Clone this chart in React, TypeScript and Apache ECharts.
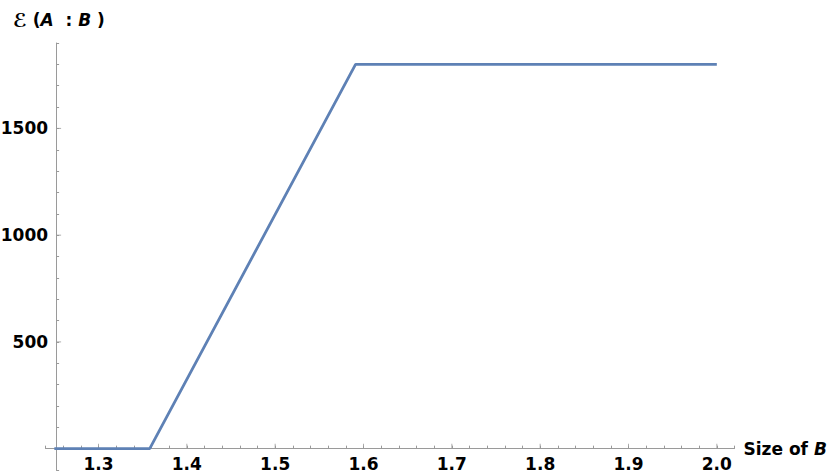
import React, { useEffect, useRef } from "react";
import * as echarts from "echarts";

const xValues = [1.25, 1.358, 1.591, 2.0];
const yValues = [0, 0, 1800, 1800];
const xMajorTicks = [1.3, 1.4, 1.5, 1.6, 1.7, 1.8, 1.9, 2.0];
const yMajorTicks = [500, 1000, 1500];

const X_MIN = 1.24;
const X_MAX = 2.02;
const Y_MIN = -100;
const Y_MAX = 1900;
const Y_AXIS_AT = 1.252;

const GRID_LEFT = 45.5;
const GRID_RIGHT = 95.5;
const W = 830;
const FONT = "DejaVu Sans";
const AXIS_COLOR = "#9a9a9a";
const FS = 17;

export default function App() {
  const ref = useRef<HTMLDivElement>(null);
  useEffect(() => {
    if (!ref.current) return;
    const chart = echarts.init(ref.current, undefined, { renderer: "svg" });
    const gridW = W - GRID_LEFT - GRID_RIGHT;
    const yOffset = -((Y_AXIS_AT - X_MIN) / (X_MAX - X_MIN)) * gridW;
    chart.setOption({
      animation: false,
      backgroundColor: "#fff",
      grid: {
        left: GRID_LEFT,
        right: GRID_RIGHT,
        top: 43,
        bottom: 5,
        containLabel: false,
        outerBoundsMode: "none",
      },
      graphic: [
        {
          type: "text",
          left: 13,
          top: 10,
          style: {
            text: "{s|ℰ}{b| (}{i|A}{b|  : }{i|B}{b| )}",
            rich: {
              s: { fontFamily: FONT, fontSize: 19, fontWeight: "bold", fill: "#000" },
              b: { fontFamily: FONT, fontSize: 17, fontWeight: "bold", fill: "#000" },
              i: { fontFamily: FONT, fontSize: 17, fontWeight: "bold", fontStyle: "italic", fill: "#000" },
            },
          },
        },
      ],
      xAxis: {
        type: "value",
        min: X_MIN,
        max: X_MAX,
        interval: 0.02,
        splitLine: { show: false },
        axisLine: { onZero: true, lineStyle: { color: AXIS_COLOR, width: 1 } },
        axisTick: { inside: true, length: 3, lineStyle: { color: AXIS_COLOR } },
        axisLabel: {
          margin: -15,
          fontFamily: FONT,
          fontSize: FS,
          fontWeight: "bold",
          color: "#000",
          formatter: (v: number) => {
            const r = Math.round(v * 100);
            return r % 10 === 0 && r >= 130 ? (r / 100).toFixed(1) : "";
          },
        },
        name: "{b|Size of }{i|B}",
        nameLocation: "end",
        nameGap: 9,
        nameTextStyle: {
          rich: {
            b: { fontFamily: FONT, fontSize: FS, fontWeight: "bold", color: "#000" },
            i: { fontFamily: FONT, fontSize: FS, fontWeight: "bold", fontStyle: "italic", color: "#000" },
          },
        },
      },
      yAxis: {
        type: "value",
        min: Y_MIN,
        max: Y_MAX,
        interval: 100,
        offset: yOffset,
        splitLine: { show: false },
        axisLine: { show: true, onZero: false, lineStyle: { color: AXIS_COLOR, width: 1 } },
        axisTick: { show: true, inside: true, length: 3, lineStyle: { color: AXIS_COLOR } },
        axisLabel: {
          margin: 8,
          fontFamily: FONT,
          fontSize: FS,
          fontWeight: "bold",
          color: "#000",
          formatter: (v: number) => (yMajorTicks.includes(v) ? String(v) : ""),
        },
      },
      series: [
        {
          type: "scatter",
          silent: true,
          symbol: "rect",
          symbolSize: [1, 5],
          symbolOffset: [0, -2.5],
          itemStyle: { color: AXIS_COLOR },
          data: xMajorTicks.map((x) => [x, 0]),
          z: 1,
        },
        {
          type: "scatter",
          silent: true,
          symbol: "rect",
          symbolSize: [5, 1],
          symbolOffset: [2.5, 0],
          itemStyle: { color: AXIS_COLOR },
          data: yMajorTicks.map((y) => [Y_AXIS_AT, y]),
          z: 1,
        },
        {
          type: "line",
          showSymbol: false,
          silent: true,
          data: xValues.map((x, i) => [x, yValues[i]]),
          lineStyle: { color: "#5E81B5", width: 2.8 },
          itemStyle: { color: "#5E81B5" },
          z: 3,
        },
      ],
    });
    return () => chart.dispose();
  }, []);
  return <div ref={ref} style={{ width: 830, height: 475, position: "absolute", left: 0, top: 0 }} />;
}
